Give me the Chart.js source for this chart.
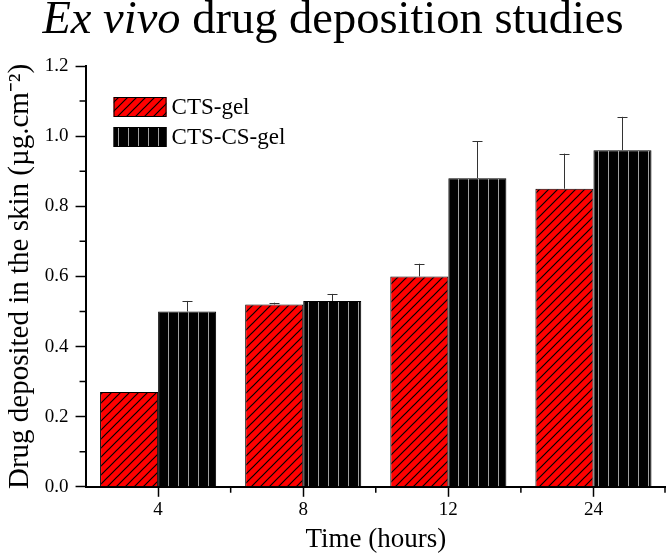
<!DOCTYPE html>
<html lang="en">
<head>
    <meta charset="UTF-8">
    <title>Ex vivo drug deposition studies</title>
    <script src="https://cdn.jsdelivr.net/npm/chart.js"></script>
    <style>
        body {
            margin: 0;
            background-color: #ffffff;
        }
        .chart-container {
            position: relative;
            width: 666px;
            height: 556px;
        }
    </style>
</head>
<body>

<div class="chart-container">
    <canvas id="depositionChart"></canvas>
</div>

<script>
    // Data
    const timePoints = ['4', '8', '12', '24'];
    const ctsGel = [0.27, 0.52, 0.60, 0.85];
    const ctsGelErr = [0.0, 0.005, 0.036, 0.10];
    const ctsCsGel = [0.50, 0.53, 0.88, 0.96];
    const ctsCsGelErr = [0.03, 0.02, 0.105, 0.095];
    const seriesNames = ['CTS-gel', 'CTS-CS-gel'];

    const serif = "'Liberation Serif', 'Times New Roman', serif";

    // Hatch patterns
    function makeDiagonalPattern() {
        const c = document.createElement('canvas');
        c.width = 9; c.height = 9;
        const g = c.getContext('2d');
        g.fillStyle = '#ff0000';
        g.fillRect(0, 0, 9, 9);
        g.strokeStyle = '#000';
        g.lineWidth = 1.2;
        g.beginPath();
        g.moveTo(-1, 10); g.lineTo(10, -1);
        g.moveTo(-1, 1); g.lineTo(1, -1);
        g.moveTo(8, 10); g.lineTo(10, 8);
        g.stroke();
        return g.createPattern(c, 'repeat');
    }

    function makeVerticalPattern() {
        const c = document.createElement('canvas');
        c.width = 10; c.height = 10;
        const g = c.getContext('2d');
        g.fillStyle = '#000';
        g.fillRect(0, 0, 10, 10);
        g.fillStyle = '#a0a0a0';
        g.fillRect(8, 0, 1, 10);
        return g.createPattern(c, 'repeat');
    }

    const redHatch = makeDiagonalPattern();
    const blackHatch = makeVerticalPattern();

    // Title with italic "Ex vivo"
    const titlePlugin = {
        id: 'mixedTitle',
        afterDraw(chart) {
            const ctx = chart.ctx;
            const size = 46.5;
            const partA = 'Ex vivo';
            const partB = ' drug deposition studies';
            ctx.save();
            ctx.fillStyle = '#000';
            ctx.textBaseline = 'alphabetic';
            ctx.font = 'italic ' + size + 'px ' + serif;
            const wA = ctx.measureText(partA).width;
            ctx.font = size + 'px ' + serif;
            const wB = ctx.measureText(partB).width;
            const x0 = chart.width / 2 - (wA + wB) / 2;
            ctx.font = 'italic ' + size + 'px ' + serif;
            ctx.fillText(partA, x0, 33);
            ctx.font = size + 'px ' + serif;
            ctx.fillText(partB, x0 + wA, 33);
            ctx.restore();
        }
    };

    // Upward error bars
    const errorBarPlugin = {
        id: 'errorBars',
        afterDatasetsDraw(chart) {
            const ctx = chart.ctx;
            const yScale = chart.scales.y;
            const errs = [ctsGelErr, ctsCsGelErr];
            ctx.save();
            ctx.strokeStyle = '#333';
            ctx.lineWidth = 1;
            chart.data.datasets.forEach((ds, di) => {
                const meta = chart.getDatasetMeta(di);
                meta.data.forEach((bar, i) => {
                    const err = errs[di][i];
                    if (!err) return;
                    const yTop = yScale.getPixelForValue(ds.data[i] + err);
                    const x = Math.round(bar.x) + 0.5;
                    ctx.beginPath();
                    ctx.moveTo(x, bar.y);
                    ctx.lineTo(x, yTop);
                    ctx.moveTo(x - 5, Math.round(yTop) + 0.5);
                    ctx.lineTo(x + 5, Math.round(yTop) + 0.5);
                    ctx.stroke();
                });
            });
            ctx.restore();
        }
    };

    // Minor ticks on both axes
    const minorTickPlugin = {
        id: 'minorTicks',
        afterDraw(chart) {
            const ctx = chart.ctx;
            const y = chart.scales.y;
            const area = chart.chartArea;
            ctx.save();
            ctx.strokeStyle = '#000';
            ctx.lineWidth = 1.5;
            ctx.beginPath();
            y.ticks.forEach((t) => {
                if (Math.round(t.value * 10) % 2 === 0) return;
                const py = y.getPixelForValue(t.value);
                ctx.moveTo(area.left - 6, py);
                ctx.lineTo(area.left, py);
            });
            const step = (area.right - area.left) / timePoints.length;
            for (let i = 1; i <= timePoints.length; i++) {
                const px = Math.min(area.left + i * step, chart.width - 1);
                ctx.moveTo(px, area.bottom);
                ctx.lineTo(px, area.bottom + 6);
            }
            ctx.stroke();
            ctx.restore();
        }
    };

    // Legend in the top-left of the plot
    const legendPlugin = {
        id: 'boxLegend',
        afterDraw(chart) {
            const ctx = chart.ctx;
            const area = chart.chartArea;
            const fills = [redHatch, blackHatch];
            ctx.save();
            ctx.font = '23px ' + serif;
            ctx.textBaseline = 'middle';
            seriesNames.forEach((name, i) => {
                const bx = area.left + 28;
                const by = area.top + 31 + i * 30;
                ctx.fillStyle = fills[i];
                ctx.fillRect(bx, by, 53, 20);
                ctx.strokeStyle = '#000';
                ctx.lineWidth = 1;
                ctx.strokeRect(bx + 0.5, by + 0.5, 52, 19);
                ctx.fillStyle = '#000';
                ctx.fillText(name, bx + 58, by + 11);
            });
            ctx.restore();
        }
    };

    const ctx = document.getElementById('depositionChart').getContext('2d');
    new Chart(ctx, {
        type: 'bar',
        data: {
            labels: timePoints,
            datasets: [{
                label: seriesNames[0],
                data: ctsGel,
                backgroundColor: redHatch,
                borderColor: '#000',
                borderWidth: 1
            }, {
                label: seriesNames[1],
                data: ctsCsGel,
                backgroundColor: blackHatch,
                borderColor: '#000',
                borderWidth: 1
            }]
        },
        options: {
            responsive: true,
            maintainAspectRatio: false,
            animation: false,
            categoryPercentage: 0.8,
            barPercentage: 1.0,
            layout: {
                padding: { top: 66, right: 0, left: 0, bottom: 0 }
            },
            plugins: {
                legend: { display: false },
                tooltip: { enabled: false },
                title: { display: false }
            },
            scales: {
                x: {
                    grid: {
                        display: true,
                        offset: false,
                        drawOnChartArea: false,
                        drawTicks: true,
                        tickLength: 10,
                        tickWidth: 1.5,
                        tickColor: '#000'
                    },
                    border: { display: true, color: '#000', width: 2 },
                    ticks: {
                        color: '#000',
                        padding: 2,
                        font: { family: serif, size: 19 }
                    },
                    title: {
                        display: true,
                        text: 'Time (hours)',
                        color: '#000',
                        padding: 0,
                        font: { family: serif, size: 27 }
                    }
                },
                y: {
                    min: 0,
                    max: 1.2,
                    grid: {
                        display: true,
                        drawOnChartArea: false,
                        drawTicks: true,
                        tickLength: 10,
                        tickWidth: 1.5,
                        tickColor: (c) => (c.tick && Math.round(c.tick.value * 10) % 2) ? 'rgba(0,0,0,0)' : '#000'
                    },
                    border: { display: true, color: '#000', width: 2 },
                    ticks: {
                        stepSize: 0.1,
                        color: '#000',
                        padding: 7,
                        font: { family: serif, size: 19 },
                        callback: (v) => Math.round(v * 10) % 2 ? '' : v.toFixed(1)
                    },
                    title: {
                        display: true,
                        text: 'Drug deposited in the skin (µg.cm⁻²)',
                        color: '#000',
                        padding: { top: 3, bottom: 0 },
                        font: { family: serif, size: 29 }
                    }
                }
            }
        },
        plugins: [titlePlugin, errorBarPlugin, minorTickPlugin, legendPlugin]
    });
</script>
</body>
</html>
